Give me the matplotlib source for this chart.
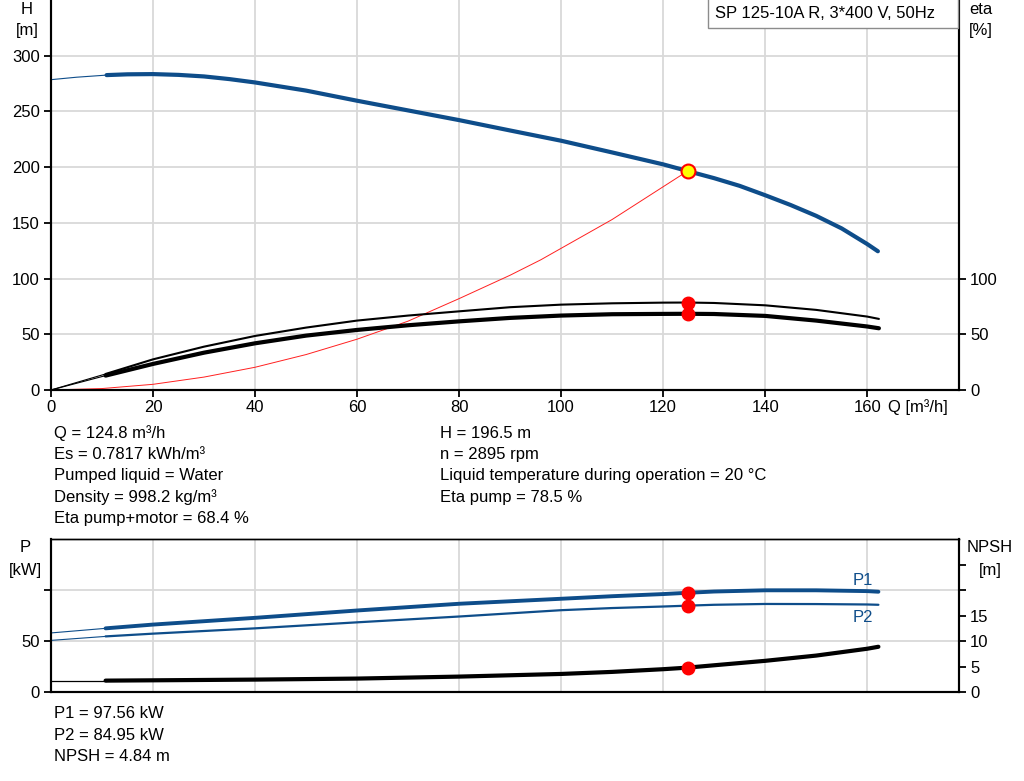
import matplotlib
matplotlib.use('Agg')
import matplotlib.pyplot as plt
from matplotlib.patches import Rectangle

# ---------------- data ----------------
q_h = [0, 5, 10.9, 15, 20, 25, 30, 35, 40, 50, 60, 70, 80, 90, 100, 110, 120,
       124.8, 130, 135, 140, 145, 150, 155, 160, 162.1]
head = [278.5, 280.7, 282.6, 283.3, 283.5, 282.8, 281.4, 279.0, 276.0, 268.7, 259.6,
        250.9, 242.2, 232.9, 223.7, 213.2, 202.5, 196.5, 190.1, 183.2, 174.8, 166.0,
        156.3, 145.0, 131.0, 124.5]

q_eta = [0, 10.7, 20, 30, 40, 50, 60, 70, 80, 90, 100, 110, 120, 124.8, 130, 140,
         150, 160, 162.3]
eta_pump = [0, 14.4, 27.5, 38.9, 48.5, 56.0, 62.3, 66.8, 70.6, 74.3, 76.6, 77.8,
            78.4, 78.5, 78.1, 76.0, 71.9, 65.9, 63.8]
eta_total = [0, 12.9, 23.4, 33.5, 41.9, 48.8, 53.9, 58.1, 61.6, 64.7, 66.8, 68.0,
             68.3, 68.4, 68.2, 66.5, 62.3, 57.0, 55.4]

q_sys = [0, 10, 20, 30, 40, 50, 60, 70, 80, 90, 96, 110, 124.8]
h_sys = [0, 1.3, 5.1, 11.6, 20.4, 31.8, 45.6, 61.8, 82.0, 103, 116.8, 153, 196.5]

q_p = [0, 10.7, 20, 40, 60, 80, 100, 110, 120, 124.8, 130, 140, 150, 160, 162.2]
p1 = [58.2, 62.7, 66.4, 73.0, 80.2, 86.8, 91.7, 94.2, 96.3, 97.56, 98.8, 100.0, 100.0,
      99.2, 98.6]
p2 = [50.9, 54.8, 57.5, 62.7, 68.6, 74.3, 80.5, 82.6, 84.1, 84.95, 85.8, 86.6, 86.5,
      86.1, 85.8]
npsh = [2.29, 2.29, 2.35, 2.49, 2.69, 3.08, 3.6, 4.0, 4.53, 4.84, 5.3, 6.17, 7.2,
        8.54, 8.93]

duty_q = 124.8
duty_h = 196.5
duty_eta_pump = 78.5
duty_eta_total = 68.4
duty_p1 = 97.56
duty_p2 = 84.95
duty_npsh = 4.84

q_ticks = [0, 20, 40, 60, 80, 100, 120, 140, 160]
h_ticks = [0, 50, 100, 150, 200, 250, 300]
eta_ticks = [0, 50, 100]
p_ticks = [0, 50, 100]
p_ticklabels = ['0', '50', '']
npsh_ticks = [0, 5, 10, 15, 20, 25]
npsh_ticklabels = ['0', '5', '10', '15', '', '']

title = 'SP 125-10A R, 3*400 V, 50Hz'
info_left = ['Q = 124.8 m³/h', 'Es = 0.7817 kWh/m³', 'Pumped liquid = Water',
             'Density = 998.2 kg/m³', 'Eta pump+motor = 68.4 %']
info_right = ['H = 196.5 m', 'n = 2895 rpm',
              'Liquid temperature during operation = 20 °C', 'Eta pump = 78.5 %']
info_bottom = ['P1 = 97.56 kW', 'P2 = 84.95 kW', 'NPSH = 4.84 m']

# ---------------- style ----------------
plt.rcParams['font.family'] = ['Liberation Sans', 'DejaVu Sans']
plt.rcParams['font.size'] = 12
BLUE = '#0e4d8a'
GRID = '#d9d9d9'
W, HP = 1024, 781

fig = plt.figure(figsize=(W / 100, HP / 100), dpi=100)


def fx(x):
    return x / W


def fy(y):
    return 1 - y / HP


def style_axis(a):
    for s in ['left', 'right', 'bottom']:
        a.spines[s].set_linewidth(1.5)
    a.tick_params(direction='out', length=5, width=1.3, pad=3)


# ---------------- top chart ----------------
ax = fig.add_axes([fx(51), fy(390), (959 - 51) / W, 390 / HP])
ax.set_xlim(0, 178)
ax.set_ylim(0, 350)
ax.set_xticks(q_ticks)
ax.set_yticks(h_ticks)
ax.grid(True, color=GRID, lw=1.3)
ax.set_axisbelow(True)
ax.spines['top'].set_visible(False)
style_axis(ax)
ax.tick_params(axis='x', pad=2)

ax2 = ax.twinx()
ax2.set_ylim(0, 350)
ax2.set_yticks(eta_ticks)
ax2.spines['top'].set_visible(False)
style_axis(ax2)

# system curve
ax.plot(q_sys, h_sys, color='#ff2020', lw=0.7, zorder=3)
# head curve
ax.plot(q_h[:3], head[:3], color=BLUE, lw=0.8, zorder=4)
ax.plot(q_h[2:], head[2:], color=BLUE, lw=3.0, solid_capstyle='round',
        solid_joinstyle='round', zorder=4)
ax.plot([duty_q], [duty_h], 'o', ms=10, mfc='#ffff00', mec='red', mew=1.5, zorder=6)

# efficiency curves
ax2.plot(q_eta[:2], eta_pump[:2], color='black', lw=0.8)
ax2.plot(q_eta[1:], eta_pump[1:], color='black', lw=1.5, solid_capstyle='round',
         solid_joinstyle='round')
ax2.plot(q_eta[:2], eta_total[:2], color='black', lw=0.8)
ax2.plot(q_eta[1:], eta_total[1:], color='black', lw=3.0, solid_capstyle='round',
         solid_joinstyle='round')
ax2.plot([duty_q, duty_q], [duty_eta_pump, duty_eta_total], 'o', ms=9, color='red', zorder=6)

# axis labels
fig.text(fx(27), fy(10), 'H', ha='center', va='center')
fig.text(fx(27), fy(30), '[m]', ha='center', va='center')
fig.text(fx(981), fy(10), 'eta', ha='center', va='center')
fig.text(fx(981), fy(30), '[%]', ha='center', va='center')
fig.text(fx(888), fy(407), 'Q [m³/h]', ha='left', va='center')

# title box
fig.patches.append(Rectangle((fx(708), fy(28)), (958 - 708) / W, 30 / HP,
                             transform=fig.transFigure, facecolor='white',
                             edgecolor='#8c8c8c', lw=1.0, zorder=5))
fig.text(fx(715), fy(14), title, ha='left', va='center', zorder=6)

# info text
for i, t in enumerate(info_left):
    fig.text(fx(54), fy(433 + i * 21.5), t, ha='left', va='center')
for i, t in enumerate(info_right):
    fig.text(fx(440), fy(433 + i * 21.5), t, ha='left', va='center')

# ---------------- bottom chart ----------------
bx = fig.add_axes([fx(51), fy(692.3), (959 - 51) / W, 153 / HP])
bx.set_xlim(0, 178)
bx.set_ylim(0, 150)
bx.set_xticks(q_ticks[1:])
bx.set_yticks(p_ticks)
bx.set_yticklabels(p_ticklabels)
bx.grid(True, color=GRID, lw=1.3)
bx.set_axisbelow(True)
style_axis(bx)
bx.spines['top'].set_linewidth(1.0)
bx.tick_params(axis='x', length=0, labelbottom=False)

bx2 = bx.twinx()
bx2.set_ylim(0, 30)
bx2.set_yticks(npsh_ticks)
bx2.set_yticklabels(npsh_ticklabels)
style_axis(bx2)
bx2.spines['top'].set_linewidth(1.0)

bx.plot(q_p[:2], p1[:2], color=BLUE, lw=0.8)
bx.plot(q_p[1:], p1[1:], color=BLUE, lw=2.8, solid_capstyle='round', solid_joinstyle='round')
bx.plot(q_p[:2], p2[:2], color=BLUE, lw=0.8)
bx.plot(q_p[1:], p2[1:], color=BLUE, lw=1.6, solid_capstyle='round', solid_joinstyle='round')
bx.plot([duty_q, duty_q], [duty_p1, duty_p2], 'o', ms=9, color='red', zorder=6)
bx.text(157.2, 110, 'P1', color=BLUE, ha='left', va='center')
bx.text(157.2, 73, 'P2', color=BLUE, ha='left', va='center')

bx2.plot(q_p[:2], npsh[:2], color='black', lw=0.9)
bx2.plot(q_p[1:], npsh[1:], color='black', lw=3.0, solid_capstyle='round',
         solid_joinstyle='round')
bx2.plot([duty_q], [duty_npsh], 'o', ms=9, color='red', zorder=6)

fig.text(fx(25), fy(548), 'P', ha='center', va='center')
fig.text(fx(25), fy(570), '[kW]', ha='center', va='center')
fig.text(fx(990), fy(548), 'NPSH', ha='center', va='center')
fig.text(fx(990), fy(570), '[m]', ha='center', va='center')

for i, t in enumerate(info_bottom):
    fig.text(fx(54), fy(714 + i * 21.2), t, ha='left', va='center')

fig.savefig('out.png', dpi=100)
